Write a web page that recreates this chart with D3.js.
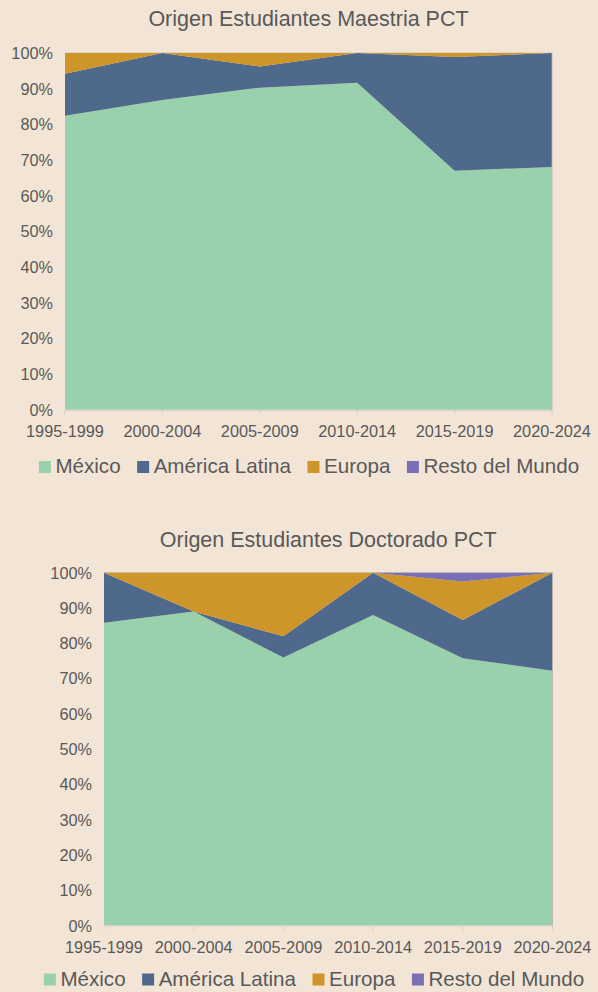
<!DOCTYPE html>
<html>
<head>
<meta charset="utf-8">
<script src="https://cdn.jsdelivr.net/npm/d3@7"></script>
<style>
  html, body { margin: 0; padding: 0; background: #f2e5d5; }
  svg { display: block; font-family: "Liberation Sans", Arial, sans-serif; }
</style>
</head>
<body>
<div id="chart"></div>
<script>
// categories
const periods = ["1995-1999", "2000-2004", "2005-2009", "2010-2014", "2015-2019", "2020-2024"];
const seriesNames = ["México", "América Latina", "Europa", "Resto del Mundo"];
const yTicks = [0, 10, 20, 30, 40, 50, 60, 70, 80, 90, 100];

// Maestria (% of students)
const maestriaMexico = [82.4, 86.8, 90.3, 91.7, 67.0, 68.1];
const maestriaAmLatina = [11.8, 13.2, 5.9, 8.3, 31.9, 31.9];
const maestriaEuropa = [5.8, 0, 3.8, 0, 1.1, 0];
const maestriaResto = [0, 0, 0, 0, 0, 0];

// Doctorado (% of students)
const doctoradoMexico = [85.8, 89.0, 76.0, 88.0, 75.8, 72.2];
const doctoradoAmLatina = [14.2, 0, 6.0, 12.0, 10.8, 27.8];
const doctoradoEuropa = [0, 11.0, 18.0, 0, 10.9, 0];
const doctoradoResto = [0, 0, 0, 0, 2.5, 0];

const colors = ["#99d1ac", "#4f698c", "#cd952a", "#786fb4"];
const textColor = "#595959";

const W = 598, H = 992;
const svg = d3.select("#chart").append("svg")
    .attr("width", W)
    .attr("height", H);

svg.append("rect")
    .attr("width", W).attr("height", H)
    .attr("fill", "#f2e5d5");

function toRows(series) {
    return periods.map(function (p, i) {
        let row = {period: p};
        seriesNames.forEach(function (s, k) { row[s] = series[k][i]; });
        return row;
    });
}

function drawChart(cfg) {
    const g = svg.append("g");

    const x = d3.scalePoint().domain(periods).range([cfg.left, cfg.right]);
    const y = d3.scaleLinear().domain([0, 100]).range([cfg.bottom, cfg.top]);

    // title
    g.append("text")
        .attr("x", (cfg.left + cfg.right) / 2)
        .attr("y", cfg.titleY)
        .attr("text-anchor", "middle")
        .attr("fill", textColor)
        .style("font-size", "21.5px")
        .text(cfg.title);

    // gridlines
    g.append("g").selectAll("line")
        .data(yTicks).enter().append("line")
        .attr("x1", cfg.left).attr("x2", cfg.right)
        .attr("y1", d => y(d)).attr("y2", d => y(d))
        .attr("stroke", "#cdc4b8")
        .attr("stroke-width", 1);

    // stacked areas
    const stack = d3.stack().keys(seriesNames);
    const layers = stack(toRows(cfg.series));
    const area = d3.area()
        .x(d => x(d.data.period))
        .y0(d => y(d[0]))
        .y1(d => y(d[1]));

    g.append("g").selectAll("path")
        .data(layers).enter().append("path")
        .attr("d", area)
        .attr("fill", (d, i) => colors[i]);

    // right edge
    g.append("line")
        .attr("x1", cfg.right).attr("x2", cfg.right)
        .attr("y1", cfg.top).attr("y2", cfg.bottom)
        .attr("stroke", "#b9b5b0")
        .attr("stroke-width", 0.8);

    // y axis labels
    g.append("g").selectAll("text")
        .data(yTicks).enter().append("text")
        .attr("x", cfg.left - 12)
        .attr("y", d => y(d))
        .attr("dy", "0.36em")
        .attr("text-anchor", "end")
        .attr("fill", textColor)
        .style("font-size", "16.3px")
        .text(d => d + "%");

    // x axis
    g.append("line")
        .attr("x1", cfg.left).attr("x2", cfg.right)
        .attr("y1", cfg.bottom).attr("y2", cfg.bottom)
        .attr("stroke", "#d6d2cc")
        .attr("stroke-width", 1);

    g.append("g").selectAll("line")
        .data(periods).enter().append("line")
        .attr("x1", d => x(d)).attr("x2", d => x(d))
        .attr("y1", cfg.bottom).attr("y2", cfg.bottom + 5)
        .attr("stroke", "#d6d2cc")
        .attr("stroke-width", 1);

    g.append("g").selectAll("text")
        .data(periods).enter().append("text")
        .attr("x", d => x(d))
        .attr("y", cfg.bottom + 27)
        .attr("text-anchor", "middle")
        .attr("fill", textColor)
        .style("font-size", "16.3px")
        .text(d => d);

    // legend
    const legend = g.append("g");
    const items = legend.selectAll("g")
        .data(seriesNames).enter().append("g");

    items.append("rect")
        .attr("width", 12).attr("height", 12)
        .attr("y", cfg.legendY - 12)
        .attr("fill", (d, i) => colors[i]);

    items.append("text")
        .attr("x", 16.5)
        .attr("y", cfg.legendY)
        .attr("fill", textColor)
        .style("font-size", "20.6px")
        .text(d => d);

    const gap = 16.5;
    let widths = [];
    items.selectAll("text").each(function () { widths.push(this.getComputedTextLength()); });
    const total = d3.sum(widths) + seriesNames.length * 16.5 + gap * (seriesNames.length - 1);
    let cx = cfg.legendCenter - total / 2;
    items.attr("transform", function (d, i) {
        const t = "translate(" + cx + ",0)";
        cx += 16.5 + widths[i] + gap;
        return t;
    });
}

drawChart({
    title: "Origen Estudiantes Maestria PCT",
    series: [maestriaMexico, maestriaAmLatina, maestriaEuropa, maestriaResto],
    left: 65, right: 552, top: 53, bottom: 410,
    titleY: 26, legendY: 473, legendCenter: 309
});

drawChart({
    title: "Origen Estudiantes Doctorado PCT",
    series: [doctoradoMexico, doctoradoAmLatina, doctoradoEuropa, doctoradoResto],
    left: 104, right: 552.5, top: 572.7, bottom: 925.7,
    titleY: 547, legendY: 985.5, legendCenter: 314
});
</script>
</body>
</html>
